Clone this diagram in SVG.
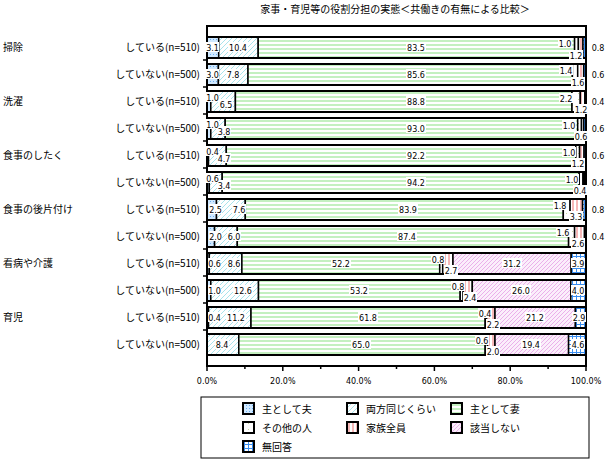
<svg xmlns="http://www.w3.org/2000/svg" width="610" height="464" viewBox="0 0 610 464">
<defs>
<pattern id="pHus" width="3" height="3" patternUnits="userSpaceOnUse"><rect width="3" height="3" fill="#cfe8ff"/><rect width="1" height="1" fill="#6aaef0"/></pattern>
<pattern id="pBoth" width="5" height="5" patternUnits="userSpaceOnUse"><rect width="5" height="5" fill="#fff"/><path d="M0 5L5 0" stroke="#a8e4ec" stroke-width="1"/></pattern>
<pattern id="pWife" width="4" height="4" patternUnits="userSpaceOnUse"><rect width="4" height="4" fill="#fff"/><rect y="0" width="4" height="2" fill="#c4f0c0"/></pattern>
<pattern id="pOther" width="6" height="6" patternUnits="userSpaceOnUse"><rect width="6" height="6" fill="#fff"/><rect x="2" y="3" width="1" height="1" fill="#c8d8a0"/></pattern>
<pattern id="pFam" width="4" height="4" patternUnits="userSpaceOnUse"><rect width="4" height="4" fill="#fff"/><rect width="2" height="4" fill="#f5b8b8"/></pattern>
<pattern id="pNA" width="4" height="4" patternUnits="userSpaceOnUse"><rect width="4" height="4" fill="#fbeefb"/><path d="M0 4L4 0" stroke="#eab0ea" stroke-width="1"/></pattern>
<pattern id="pNo" width="4" height="4" patternUnits="userSpaceOnUse"><rect width="4" height="4" fill="#fff"/><rect width="4" height="1" fill="#3a8ef0"/><rect width="1" height="4" fill="#3a8ef0"/></pattern>
</defs>
<style>
text{font-family:"Noto Sans CJK JP","DejaVu Sans",sans-serif;font-size:10px;fill:#000}
.v{font-family:"DejaVu Sans",sans-serif;font-size:8px;text-anchor:middle}
.lbl{fill:#fff}
.seg{stroke:#000;stroke-width:1.5}
.bar{fill:none;stroke:#000;stroke-width:2}
.h{fill:url(#pHus)}.b{fill:url(#pBoth)}.w{fill:url(#pWife)}.o{fill:url(#pOther)}.f{fill:url(#pFam)}.n{fill:url(#pNA)}.x{fill:url(#pNo)}
</style>
<rect width="610" height="464" fill="#fff"/>
<text x="395" y="13" text-anchor="middle">家事・育児等の役割分担の実態＜共働きの有無による比較＞</text>

<g id="frame">
<rect x="207" y="26" width="379" height="340" fill="#fff" stroke="#000" stroke-width="2"/>
<path d="M203 60H207M203 87H207M203 114H207M203 141H207M203 168H207M203 195H207M203 222H207M203 249H207M203 276H207M203 303H207M203 330H207M207 366V371M244.9 366V369M282.8 366V371M320.7 366V369M358.6 366V371M396.5 366V369M434.4 366V371M472.3 366V369M510.2 366V371M548.1 366V369M586 366V371" stroke="#000" stroke-width="1.5"/>
<text class="v" x="207" y="384">0.0%</text><text class="v" x="282.8" y="384">20.0%</text><text class="v" x="358.6" y="384">40.0%</text><text class="v" x="434.4" y="384">60.0%</text><text class="v" x="510.2" y="384">80.0%</text><text class="v" x="586" y="384">100.0%</text>
</g>

<g id="labels">
<text x="3" y="51">掃除</text><text x="3" y="105">洗濯</text><text x="3" y="159">食事のしたく</text><text x="3" y="213">食事の後片付け</text><text x="3" y="267">看病や介護</text><text x="3" y="321">育児</text>
<g text-anchor="end">
<text x="200" y="51">している(n=510)</text><text x="200" y="78">していない(n=500)</text>
<text x="200" y="105">している(n=510)</text><text x="200" y="132">していない(n=500)</text>
<text x="200" y="159">している(n=510)</text><text x="200" y="186">していない(n=500)</text>
<text x="200" y="213">している(n=510)</text><text x="200" y="240">していない(n=500)</text>
<text x="200" y="267">している(n=510)</text><text x="200" y="294">していない(n=500)</text>
<text x="200" y="321">している(n=510)</text><text x="200" y="348">していない(n=500)</text>
</g>
</g>

<g id="bars" class="seg">
<g id="r0"><rect class="h" x="207" y="37" width="11.7" height="21"/><rect class="b" x="218.7" y="37" width="39.5" height="21"/><rect class="w" x="258.2" y="37" width="316.4" height="21"/><rect class="o" x="574.6" y="37" width="3.8" height="21"/><rect class="f" x="578.4" y="37" width="4.6" height="21"/><rect class="x" x="583" y="37" width="3" height="21"/><rect class="bar" x="207" y="37" width="379" height="21"/></g>
<g id="r1"><rect class="h" x="207" y="64" width="11.4" height="21"/><rect class="b" x="218.4" y="64" width="29.6" height="21"/><rect class="w" x="248" y="64" width="324.4" height="21"/><rect class="o" x="572.4" y="64" width="5.3" height="21"/><rect class="f" x="577.7" y="64" width="6" height="21"/><rect class="x" x="583.7" y="64" width="2.3" height="21"/><rect class="bar" x="207" y="64" width="379" height="21"/></g>
<g id="r2"><rect class="h" x="207" y="91" width="3.8" height="21"/><rect class="b" x="210.8" y="91" width="24.6" height="21"/><rect class="w" x="235.4" y="91" width="336.6" height="21"/><rect class="o" x="572" y="91" width="8.3" height="21"/><rect class="f" x="580.3" y="91" width="4.6" height="21"/><rect class="x" x="584.9" y="91" width="1.1" height="21"/><rect class="bar" x="207" y="91" width="379" height="21"/></g>
<g id="r3"><rect class="h" x="207" y="118" width="3.8" height="21"/><rect class="b" x="210.8" y="118" width="14.4" height="21"/><rect class="w" x="225.2" y="118" width="352.5" height="21"/><rect class="o" x="577.7" y="118" width="3.8" height="21"/><rect class="f" x="581.5" y="118" width="2.2" height="21"/><rect class="x" x="583.7" y="118" width="2.3" height="21"/><rect class="bar" x="207" y="118" width="379" height="21"/></g>
<g id="r4"><rect class="h" x="207" y="145" width="1.5" height="21"/><rect class="b" x="208.5" y="145" width="17.8" height="21"/><rect class="w" x="226.3" y="145" width="349.5" height="21"/><rect class="o" x="575.8" y="145" width="3.8" height="21"/><rect class="f" x="579.6" y="145" width="4.5" height="21"/><rect class="x" x="584.1" y="145" width="1.9" height="21"/><rect class="bar" x="207" y="145" width="379" height="21"/></g>
<g id="r5"><rect class="h" x="207" y="172" width="2.3" height="21"/><rect class="b" x="209.3" y="172" width="12.9" height="21"/><rect class="w" x="222.2" y="172" width="357" height="21"/><rect class="o" x="579.2" y="172" width="3.8" height="21"/><rect class="f" x="583" y="172" width="1.5" height="21"/><rect class="x" x="584.5" y="172" width="1.5" height="21"/><rect class="bar" x="207" y="172" width="379" height="21"/></g>
<g id="r6"><rect class="h" x="207" y="199" width="9.5" height="21"/><rect class="b" x="216.5" y="199" width="28.8" height="21"/><rect class="w" x="245.3" y="199" width="318" height="21"/><rect class="o" x="563.3" y="199" width="6.8" height="21"/><rect class="f" x="570.1" y="199" width="12.5" height="21"/><rect class="x" x="582.6" y="199" width="3.4" height="21"/><rect class="bar" x="207" y="199" width="379" height="21"/></g>
<g id="r7"><rect class="h" x="207" y="226" width="7.6" height="21"/><rect class="b" x="214.6" y="226" width="22.7" height="21"/><rect class="w" x="237.3" y="226" width="331.3" height="21"/><rect class="o" x="568.6" y="226" width="6" height="21"/><rect class="f" x="574.6" y="226" width="9.9" height="21"/><rect class="x" x="584.5" y="226" width="1.5" height="21"/><rect class="bar" x="207" y="226" width="379" height="21"/></g>
<g id="r8"><rect class="h" x="207" y="253" width="2.3" height="21"/><rect class="b" x="209.3" y="253" width="32.6" height="21"/><rect class="w" x="241.9" y="253" width="197.8" height="21"/><rect class="o" x="439.7" y="253" width="3" height="21"/><rect class="f" x="442.7" y="253" width="10.3" height="21"/><rect class="n" x="453" y="253" width="118.2" height="21"/><rect class="x" x="571.2" y="253" width="14.8" height="21"/><rect class="bar" x="207" y="253" width="379" height="21"/></g>
<g id="r9"><rect class="h" x="207" y="280" width="3.8" height="21"/><rect class="b" x="210.8" y="280" width="47.7" height="21"/><rect class="w" x="258.5" y="280" width="201.7" height="21"/><rect class="o" x="460.2" y="280" width="3" height="21"/><rect class="f" x="463.2" y="280" width="9.1" height="21"/><rect class="n" x="472.3" y="280" width="98.5" height="21"/><rect class="x" x="570.8" y="280" width="15.2" height="21"/><rect class="bar" x="207" y="280" width="379" height="21"/></g>
<g id="r10"><rect class="h" x="207" y="307" width="1.5" height="21"/><rect class="b" x="208.5" y="307" width="42.5" height="21"/><rect class="w" x="251" y="307" width="234.2" height="21"/><rect class="o" x="485.2" y="307" width="1.5" height="21"/><rect class="f" x="486.7" y="307" width="8.3" height="21"/><rect class="n" x="495" y="307" width="80.4" height="21"/><rect class="x" x="575.4" y="307" width="10.6" height="21"/><rect class="bar" x="207" y="307" width="379" height="21"/></g>
<g id="r11"><rect class="b" x="207" y="334" width="31.8" height="21"/><rect class="w" x="238.8" y="334" width="246.4" height="21"/><rect class="o" x="485.2" y="334" width="2.3" height="21"/><rect class="f" x="487.5" y="334" width="7.5" height="21"/><rect class="n" x="495" y="334" width="73.6" height="21"/><rect class="x" x="568.6" y="334" width="17.4" height="21"/><rect class="bar" x="207" y="334" width="379" height="21"/></g>
</g>

<g id="values">
<g fill="#fff">
<rect x="206" y="42" width="13" height="10"/><rect x="228" y="42" width="20" height="10"/><rect x="406" y="42" width="20" height="10"/><rect x="558" y="38" width="14" height="10"/><rect x="569" y="50" width="14" height="10"/>
<rect x="206" y="69" width="13" height="10"/><rect x="226" y="69" width="14" height="10"/><rect x="406" y="69" width="20" height="10"/><rect x="559" y="65" width="14" height="10"/><rect x="571" y="77" width="14" height="10"/>
<rect x="206" y="92" width="13" height="10"/><rect x="219" y="99" width="14" height="10"/><rect x="406" y="96" width="20" height="10"/><rect x="559" y="93" width="14" height="10"/><rect x="574" y="104" width="14" height="10"/>
<rect x="206" y="119" width="13" height="10"/><rect x="217" y="126" width="14" height="10"/><rect x="406" y="123" width="20" height="10"/><rect x="562" y="120" width="14" height="10"/><rect x="574" y="131" width="14" height="10"/>
<rect x="206" y="146" width="13" height="10"/><rect x="217" y="153" width="14" height="10"/><rect x="406" y="150" width="20" height="10"/><rect x="562" y="147" width="14" height="10"/><rect x="571" y="158" width="14" height="10"/>
<rect x="206" y="173" width="13" height="10"/><rect x="217" y="180" width="14" height="10"/><rect x="406" y="177" width="20" height="10"/><rect x="565" y="174" width="14" height="10"/><rect x="573" y="185" width="14" height="10"/>
<rect x="209" y="204" width="13" height="10"/><rect x="232" y="204" width="14" height="10"/><rect x="398" y="204" width="20" height="10"/><rect x="553" y="200" width="14" height="10"/><rect x="569" y="211" width="14" height="10"/>
<rect x="209" y="231" width="13" height="10"/><rect x="227" y="231" width="14" height="10"/><rect x="397" y="231" width="20" height="10"/><rect x="556" y="227" width="14" height="10"/><rect x="571" y="238" width="14" height="10"/>
<rect x="208" y="258" width="13" height="10"/><rect x="227" y="258" width="14" height="10"/><rect x="331" y="258" width="20" height="10"/><rect x="431" y="254" width="14" height="10"/><rect x="444" y="265" width="14" height="10"/><rect x="502" y="258" width="20" height="10"/><rect x="571" y="258" width="14" height="10"/>
<rect x="208" y="285" width="13" height="10"/><rect x="233" y="285" width="20" height="10"/><rect x="349" y="285" width="20" height="10"/><rect x="451" y="281" width="14" height="10"/><rect x="463" y="292" width="14" height="10"/><rect x="511" y="285" width="20" height="10"/><rect x="571" y="285" width="14" height="10"/>
<rect x="208" y="312" width="13" height="10"/><rect x="226" y="312" width="20" height="10"/><rect x="358" y="312" width="20" height="10"/><rect x="478" y="308" width="14" height="10"/><rect x="486" y="319" width="14" height="10"/><rect x="525" y="312" width="20" height="10"/><rect x="572" y="312" width="14" height="10"/>
<rect x="215" y="339" width="14" height="10"/><rect x="351" y="339" width="20" height="10"/><rect x="475" y="335" width="14" height="10"/><rect x="486" y="346" width="14" height="10"/><rect x="521" y="339" width="20" height="10"/><rect x="571" y="339" width="14" height="10"/>
</g>
<text class="v" x="212.5" y="50.5">3.1</text><text class="v" x="238" y="50.5">10.4</text><text class="v" x="416" y="50.5">83.5</text><text class="v" x="565" y="46.5">1.0</text><text class="v" x="576" y="58.5">1.2</text><text class="v" x="598" y="50.5">0.8</text>
<text class="v" x="212.5" y="77.5">3.0</text><text class="v" x="233" y="77.5">7.8</text><text class="v" x="416" y="77.5">85.6</text><text class="v" x="566" y="73.5">1.4</text><text class="v" x="578" y="85.5">1.6</text><text class="v" x="598" y="77.5">0.6</text>
<text class="v" x="212.5" y="100.5">1.0</text><text class="v" x="226" y="107.5">6.5</text><text class="v" x="416" y="104.5">88.8</text><text class="v" x="566" y="101.5">2.2</text><text class="v" x="581" y="112.5">1.2</text><text class="v" x="598" y="104.5">0.4</text>
<text class="v" x="212.5" y="127.5">1.0</text><text class="v" x="224" y="134.5">3.8</text><text class="v" x="416" y="131.5">93.0</text><text class="v" x="569" y="128.5">1.0</text><text class="v" x="581" y="139.5">0.6</text><text class="v" x="598" y="131.5">0.6</text>
<text class="v" x="212.5" y="154.5">0.4</text><text class="v" x="224" y="161.5">4.7</text><text class="v" x="416" y="158.5">92.2</text><text class="v" x="569" y="155.5">1.0</text><text class="v" x="578" y="166.5">1.2</text><text class="v" x="598" y="158.5">0.6</text>
<text class="v" x="212.5" y="181.5">0.6</text><text class="v" x="224" y="188.5">3.4</text><text class="v" x="416" y="185.5">94.2</text><text class="v" x="572" y="182.5">1.0</text><text class="v" x="580" y="193.5">0.4</text><text class="v" x="598" y="185.5">0.4</text>
<text class="v" x="215.5" y="212.5">2.5</text><text class="v" x="239" y="212.5">7.6</text><text class="v" x="408" y="212.5">83.9</text><text class="v" x="560" y="208.5">1.8</text><text class="v" x="576" y="219.5">3.3</text><text class="v" x="598" y="212.5">0.8</text>
<text class="v" x="215.5" y="239.5">2.0</text><text class="v" x="234" y="239.5">6.0</text><text class="v" x="407" y="239.5">87.4</text><text class="v" x="563" y="235.5">1.6</text><text class="v" x="578" y="246.5">2.6</text><text class="v" x="598" y="239.5">0.4</text>
<text class="v" x="214.5" y="266.5">0.6</text><text class="v" x="234" y="266.5">8.6</text><text class="v" x="341" y="266.5">52.2</text><text class="v" x="438" y="262.5">0.8</text><text class="v" x="451" y="273.5">2.7</text><text class="v" x="512" y="266.5">31.2</text><text class="v" x="578" y="266.5">3.9</text>
<text class="v" x="214.5" y="293.5">1.0</text><text class="v" x="243" y="293.5">12.6</text><text class="v" x="359" y="293.5">53.2</text><text class="v" x="458" y="289.5">0.8</text><text class="v" x="470" y="300.5">2.4</text><text class="v" x="521" y="293.5">26.0</text><text class="v" x="578" y="293.5">4.0</text>
<text class="v" x="214.5" y="320.5">0.4</text><text class="v" x="236" y="320.5">11.2</text><text class="v" x="368" y="320.5">61.8</text><text class="v" x="485" y="316.5">0.4</text><text class="v" x="493" y="327.5">2.2</text><text class="v" x="535" y="320.5">21.2</text><text class="v" x="579" y="320.5">2.9</text>
<text class="v" x="222" y="347.5">8.4</text><text class="v" x="361" y="347.5">65.0</text><text class="v" x="482" y="343.5">0.6</text><text class="v" x="493" y="354.5">2.0</text><text class="v" x="531" y="347.5">19.4</text><text class="v" x="578" y="347.5">4.6</text>
</g>

<g id="legend">
<rect x="201" y="397" width="388" height="61" fill="#fff" stroke="#000" stroke-width="1"/>
<g stroke="#000" stroke-width="2">
<rect class="h" x="243" y="403" width="11" height="11"/><rect class="b" x="347" y="403" width="11" height="11"/><rect class="w" x="451" y="403" width="11" height="11"/>
<rect class="o" x="243" y="422" width="11" height="11"/><rect class="f" x="347" y="422" width="11" height="11"/><rect class="n" x="451" y="422" width="11" height="11"/>
<rect class="x" x="243" y="441" width="11" height="11"/>
</g>
<text x="262" y="413">主として夫</text><text x="366" y="413">両方同じくらい</text><text x="470" y="413">主として妻</text>
<text x="262" y="432">その他の人</text><text x="366" y="432">家族全員</text><text x="470" y="432">該当しない</text>
<text x="262" y="451">無回答</text>
</g>
</svg>
